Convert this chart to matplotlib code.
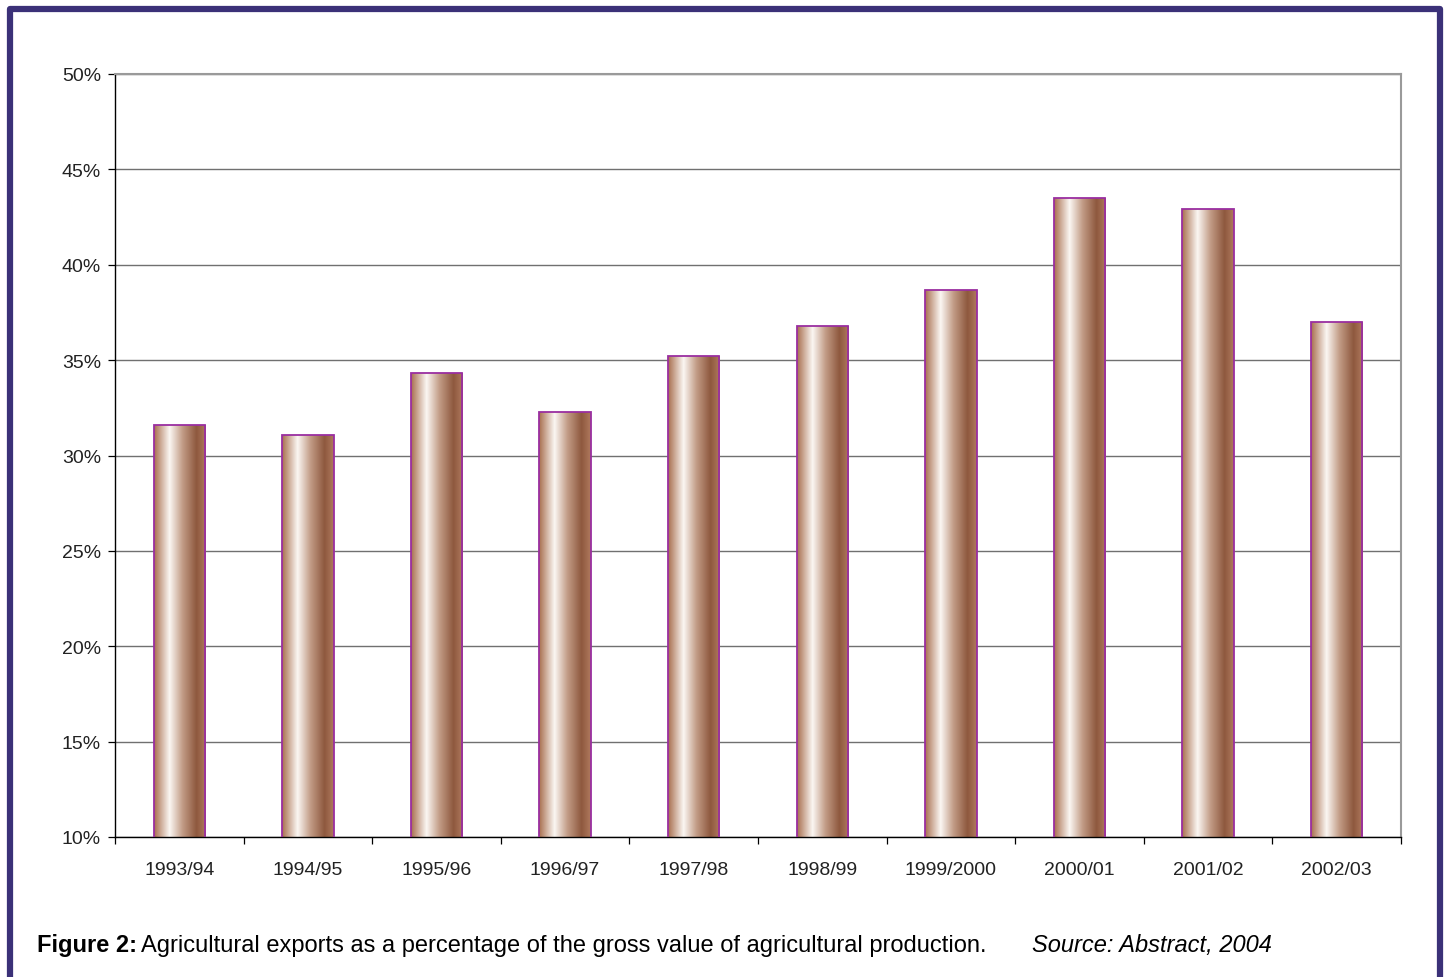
import matplotlib.pyplot as plt
import numpy as np
from matplotlib.colors import LinearSegmentedColormap
from matplotlib.lines import Line2D

plt.rcParams['font.family'] = ['Liberation Sans', 'DejaVu Sans']

years = ['1993/94', '1994/95', '1995/96', '1996/97', '1997/98',
         '1998/99', '1999/2000', '2000/01', '2001/02', '2002/03']
share = [31.6, 31.1, 34.3, 32.3, 35.2, 36.8, 38.7, 43.5, 42.9, 37.0]
yticks = [10, 15, 20, 25, 30, 35, 40, 45, 50]

fig = plt.figure(figsize=(14.5, 9.78), dpi=100)
ax = fig.add_axes([115/1450, 1-838/978, (1401-115)/1450, (838-75)/978])

# brown / white / brown shading across each bar
shade = LinearSegmentedColormap.from_list('bar', [
    (0.0, '#a86e4e'), (0.3, '#fbf7f3'), (0.55, '#c29c86'),
    (0.82, '#8e583e'), (1.0, '#b07a5e')])
grad = np.linspace(0, 1, 256).reshape(1, -1)

x = np.arange(len(years))
w = 0.4
bars = ax.bar(x, share, width=w, bottom=0, color='none',
              edgecolor='#9a2ea0', linewidth=1.3, zorder=3)
for b in bars:
    x0, x1 = b.get_x(), b.get_x() + b.get_width()
    im = ax.imshow(grad, cmap=shade, aspect='auto',
                   extent=(x0, x1, 10, b.get_height()), zorder=2)
    im.set_clip_path(b)

ax.set_xlim(-0.5, len(years) - 0.5)
ax.set_ylim(10, 50)
ax.set_yticks(yticks)
ax.set_yticklabels([f'{v}%' for v in yticks])
ax.yaxis.grid(True, color='#707070', linewidth=1.0, zorder=1)
ax.set_axisbelow(True)

ax.set_xticks(x)
ax.set_xticklabels(years)
ax.set_xticks(np.arange(len(years) + 1) - 0.5, minor=True)
ax.tick_params(axis='x', which='major', length=0, pad=17, labelsize=14, labelcolor='#222222')
ax.tick_params(axis='x', which='minor', length=5, direction='out', width=0.9)
ax.tick_params(axis='y', length=5, width=0.9, labelsize=14, pad=5, labelcolor='#222222')

for s in ['left', 'bottom']:
    ax.spines[s].set_color('black')
    ax.spines[s].set_linewidth(1.0)
for s in ['top', 'right']:
    ax.spines[s].set_color('#9a9a9a')
    ax.spines[s].set_linewidth(1.5)

# outer frame (open at the bottom)
frame = '#3b3178'
fx0, fx1, fy = 10/1450, 1440/1450, 1 - 10/978
fig.add_artist(Line2D([fx0, fx0, fx1, fx1], [0, fy, fy, 0],
                      transform=fig.transFigure, color=frame, linewidth=4.5))

ybase = 1 - 952/978
fig.text(37/1450, ybase, 'Figure 2:', fontsize=17, fontweight='bold', va='baseline')
fig.text(141/1450, ybase,
         'Agricultural exports as a percentage of the gross value of agricultural production.',
         fontsize=17, va='baseline')
fig.text(1032/1450, ybase, 'Source: Abstract, 2004', fontsize=17,
         style='italic', va='baseline')

fig.savefig('out.png', dpi=100)
